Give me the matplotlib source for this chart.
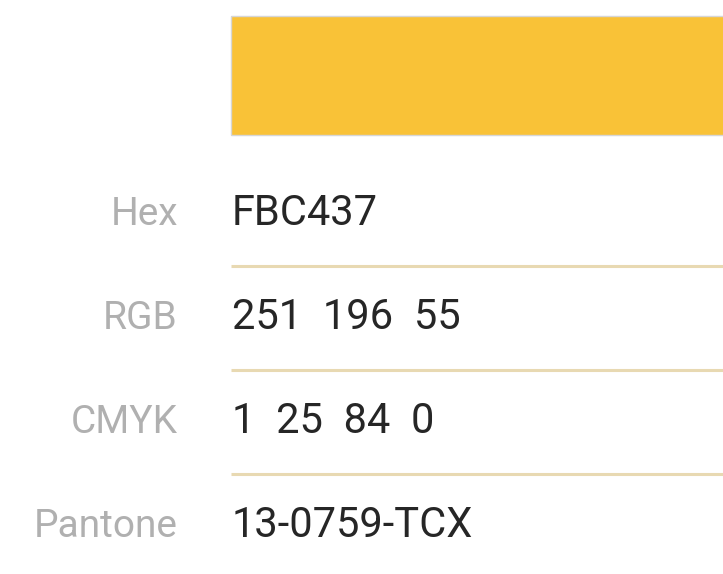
import matplotlib.pyplot as plt
import matplotlib.patches as patches

# colour card for one swatch
labels = ['Hex', 'RGB', 'CMYK', 'Pantone']
values = ['FBC437', '251  196  55', '1  25  84  0', '13-0759-TCX']
swatch = '#F9C237'

W, H = 723, 574
fig = plt.figure(figsize=(W / 100, H / 100), dpi=100)
ax = fig.add_axes([0, 0, 1, 1])
ax.set_xlim(0, W)
ax.set_ylim(H, 0)
ax.axis('off')

# swatch block with a faint grey edge
ax.add_patch(patches.Rectangle((231, 16), W - 231 + 5, 119, facecolor=swatch,
                               edgecolor='#d6d6d6', linewidth=1.0))

row_h = 104
base0 = 225
for i, (lab, val) in enumerate(zip(labels, values)):
    y = base0 + i * row_h
    ax.text(178, y, lab, ha='right', va='baseline', fontsize=28,
            family='Roboto', color='#b0b0b0')
    ax.text(232, y, val, ha='left', va='baseline', fontsize=30,
            family='Roboto', color='#262626')
    if i < len(labels) - 1:
        ax.plot([231, W], [y + 41, y + 41], color='#e8d9b2', linewidth=2.2,
                solid_capstyle='butt')

fig.savefig('out.png', dpi=100)
